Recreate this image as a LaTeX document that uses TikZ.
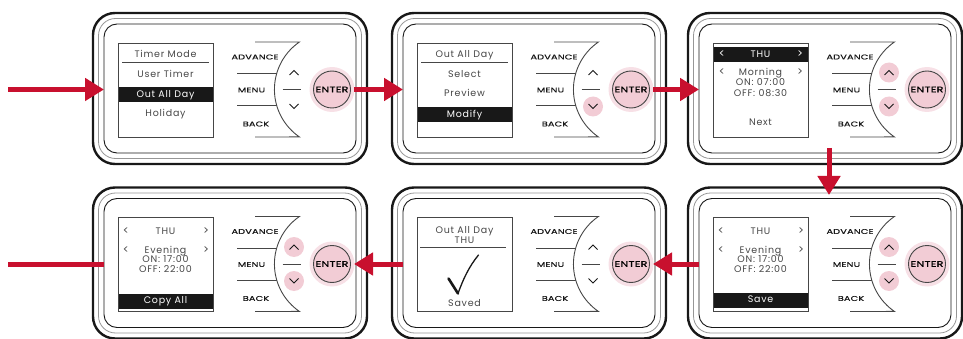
\documentclass[tikz,border=0pt]{standalone}
\usepackage{fontspec}
\usetikzlibrary{arrows.meta}
\newfontfamily\scrfont[LetterSpace=8]{Poppins}
\newfontfamily\keyfont[FakeStretch=1.4,LetterSpace=2,FakeBold=0.6]{Poppins}
\definecolor{menucolor0000}{RGB}{255,255,255}
\definecolor{menucolor0001}{RGB}{24,24,24}
\definecolor{menucolor0002}{RGB}{150,150,150}
\definecolor{menucolor0003}{RGB}{70,70,70}
\definecolor{menucolor0004}{RGB}{200,16,46}
\definecolor{menucolor0005}{RGB}{242,204,213}
\begin{document}
\begin{tikzpicture}[yscale=-1,x=1pt,y=1pt
,pstyle1/.style={draw=menucolor0001,line width=2.4pt,rounded corners=22pt,minimum width=274pt,minimum height=151pt,inner sep=0pt}
,pstyle2/.style={color=menucolor0002,line width=0.8pt,rounded corners=17pt}
,pstyle3/.style={color=menucolor0001,line width=0.9pt,rounded corners=13pt}
,pstyle4/.style={color=menucolor0003,line width=0.9pt}
,pstyle5/.style={color=menucolor0001,line width=1pt}
,pscreen/.style={draw=menucolor0003,line width=0.9pt,minimum width=95pt,minimum height=94pt,inner sep=0pt}
,ptext/.style={color=menucolor0003,font=\scrfont\fontsize{9.5}{9.5}\selectfont,text height=6.8pt,text depth=1.6pt,inner sep=0pt}
,psmall/.style={ptext,font=\scrfont\fontsize{11}{11}\selectfont}
,pbar/.style={ptext,fill=menucolor0001,text=menucolor0000,minimum width=94pt,minimum height=15pt}
,pkey/.style={color=menucolor0001,font=\keyfont\fontsize{7}{7}\selectfont,inner sep=0pt}
,penter/.style={circle,fill=menucolor0005,draw=menucolor0003,line width=0.9pt,minimum size=37pt,inner sep=0pt,outer sep=3.5pt,font=\keyfont\fontsize{8}{8}\selectfont}
,pchev/.style={circle,minimum size=20pt,inner sep=0pt}
,parrow/.style={color=menucolor0004,line width=5pt,-{Triangle[length=19pt,width=22pt]}}
,pline/.style={color=menucolor0004,line width=5pt}
]
\useasboundingbox (0,0) rectangle (963,339);
\foreach \pn/\px/\py/\pu/\pd in {p1/93/13/none/none,p2/392/13/none/menucolor0005,p3/688/13/menucolor0005/menucolor0005,p4/93/187.5/menucolor0005/menucolor0005,p5/392/187.5/none/none,p6/688/187.5/menucolor0005/menucolor0005}{
\begin{scope}[shift={(\px,\py)}]
\node[pstyle1] (\pn) at (137,75.5) {};
\draw[pstyle2] (5.5,5.5) rectangle (268.5,145.5);
\draw[pstyle3] (11,11) rectangle (263,140);
\node[pscreen] (\pn-scr) at (72.5,77) {};
\fill[menucolor0005,opacity=0.6] (239,76.5) circle[radius=22.5];
\node[penter] (\pn-ent) at (239,76.5) {ENTER};
\draw[pstyle4] (162,29) -- (206.4,29) arc[start angle=235.5,end angle=124.5,radius=57.6] -- (162,124);
\draw[pstyle4] (144,60.5) -- (183.7,60.5);
\draw[pstyle4] (144,92.5) -- (183.7,92.5);
\draw[pstyle4] (189.5,76.5) -- (207.5,76.5);
\node[pkey] (\pn-adv) at (162,44) {ADVANCE};
\node[pkey] (\pn-men) at (158.5,77) {MENU};
\node[pkey] (\pn-bck) at (163,111) {BACK};
\node[pchev,fill=\pu] (\pn-up) at (201,59.5) {};
\node[pchev,fill=\pd] (\pn-dn) at (201,93.5) {};
\draw[pstyle5] (196.5,62) -- (201,57.5) -- (205.5,62);
\draw[pstyle5] (196.5,91) -- (201,95.5) -- (205.5,91);
\coordinate (\pn-w) at (11,76.5);
\coordinate (\pn-n) at (141,7.5);
\coordinate (\pn-s) at (141,135);
\end{scope}
}
\begin{scope}[shift={(93,13)}]
\node[ptext] (t1a) at (72.5,42) {Timer Mode};
\draw[pstyle4] (29,49) -- (116,49);
\node[ptext] (t1b) at (72.5,62) {User Timer};
\node[pbar] (t1c) at (72.5,81.5) {Out All Day};
\node[ptext] (t1d) at (72.5,101) {Holiday};
\end{scope}
\begin{scope}[shift={(392,13)}]
\node[ptext] (t2a) at (72.5,42) {Out All Day};
\draw[pstyle4] (29,49) -- (116,49);
\node[ptext] (t2b) at (72.5,62) {Select};
\node[ptext] (t2c) at (72.5,81) {Preview};
\node[pbar] (t2d) at (72.5,101.5) {Modify};
\end{scope}
\begin{scope}[shift={(688,13)}]
\node[pbar] (t3a) at (72.5,41.5) {THU};
\node[psmall,text=menucolor0000] (t3b) at (34,41.5) {<};
\node[psmall,text=menucolor0000] (t3c) at (112,41.5) {>};
\node[psmall] (t3d) at (34,60) {<};
\node[ptext] (t3e) at (72.5,60) {Morning};
\node[psmall] (t3f) at (112,60) {>};
\node[ptext] (t3g) at (72.5,69.5) {ON: 07:00};
\node[ptext] (t3h) at (72.5,81) {OFF: 08:30};
\node[ptext] (t3i) at (72.5,110) {Next};
\end{scope}
\begin{scope}[shift={(93,187.5)}]
\node[psmall] (t4a) at (33,44.5) {<};
\node[ptext] (t4b) at (72.5,44.5) {THU};
\node[psmall] (t4c) at (113,44.5) {>};
\node[psmall] (t4d) at (33,63.5) {<};
\node[ptext] (t4e) at (72.5,63.5) {Evening};
\node[psmall] (t4f) at (113,63.5) {>};
\node[ptext] (t4g) at (72.5,72.5) {ON: 17:00};
\node[ptext] (t4h) at (72.5,82.5) {OFF: 22:00};
\node[pbar] (t4i) at (72.5,113.5) {Copy All};
\end{scope}
\begin{scope}[shift={(392,187.5)}]
\node[ptext] (t5a) at (72.5,43.5) {Out All Day};
\node[ptext] (t5b) at (72.5,53) {THU};
\draw[pstyle4] (28,60) -- (114,60);
\draw[color=menucolor0001,line width=2.6pt,line cap=round] (56.5,91) -- (66,106);
\draw[color=menucolor0001,line width=1.3pt,line cap=round] (66,106) .. controls (71,92) and (77,79) .. (86.5,67.5);
\node[ptext] (t5c) at (72.5,116) {Saved};
\end{scope}
\begin{scope}[shift={(688,187.5)}]
\node[psmall] (t6a) at (33,44.5) {<};
\node[ptext] (t6b) at (72.5,44.5) {THU};
\node[psmall] (t6c) at (113,44.5) {>};
\node[psmall] (t6d) at (33,63.5) {<};
\node[ptext] (t6e) at (72.5,63.5) {Evening};
\node[psmall] (t6f) at (113,63.5) {>};
\node[ptext] (t6g) at (72.5,72.5) {ON: 17:00};
\node[ptext] (t6h) at (72.5,82.5) {OFF: 22:00};
\node[pbar] (t6i) at (72.5,112.5) {Save};
\end{scope}
\coordinate (in) at (8,89.5);
\coordinate (out) at (8,264);
\draw[parrow] (in) -- (p1-w);
\draw[parrow] (p1-ent) -- (p2-w);
\draw[parrow] (p2-ent) -- (p3-w);
\draw[parrow] (p3-s) -- (p6-n);
\draw[parrow] (p6-w) -- (p5-ent);
\draw[parrow] (p5-w) -- (p4-ent);
\draw[pline] (p4-w) -- (out);
\end{tikzpicture}
\end{document}
